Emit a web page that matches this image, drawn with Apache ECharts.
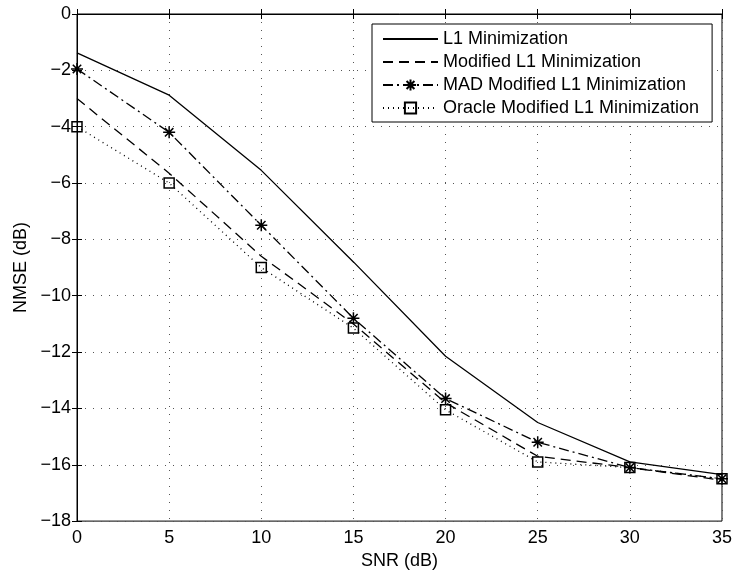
<!DOCTYPE html>
<html>
<head>
<meta charset="utf-8">
<script src="https://cdn.jsdelivr.net/npm/echarts@6/dist/echarts.min.js"></script>
<style>
  html, body { margin: 0; padding: 0; background: #fff; }
  #chart { width: 735px; height: 575px; }
</style>
</head>
<body>
<div id="chart"></div>
<script>
// SNR points (dB)
const snr = [0, 5, 10, 15, 20, 25, 30, 35]

// NMSE (dB)
const l1Min = [-1.38, -2.88, -5.55, -8.8, -12.15, -14.5, -15.9, -16.35]
const modL1 = [-3.0, -5.65, -8.6, -11.0, -13.8, -15.7, -16.1, -16.55]
const madModL1 = [-1.95, -4.2, -7.5, -10.8, -13.65, -15.2, -16.1, -16.5]
const oracleModL1 = [-4.0, -6.0, -9.0, -11.15, -14.05, -15.9, -16.1, -16.5]

const seriesNames = [
  'L1 Minimization',
  'Modified L1 Minimization',
  'MAD Modified L1 Minimization',
  'Oracle Modified L1 Minimization'
]

const FONT = 'Liberation Sans, Arial, Helvetica, sans-serif'
const FS = 18

// asterisk marker (MATLAB '*')
const starPath = 'path://M0,-5L0,5M-5,0L5,0M-3.5,-3.5L3.5,3.5M-3.5,3.5L3.5,-3.5'

const pairs = (ys) => snr.map((x, i) => [x, ys[i]])

const minusFmt = (v) => String(v).replace('-', '\u2212')

const chart = echarts.init(document.getElementById('chart'))

const gridLine = {
  show: true,
  lineStyle: { color: '#555', width: 1, type: [1, 7] }
}

// top / right axes only draw the box and the inner ticks
const frameAxis = {
  axisLine: { show: true, lineStyle: { color: '#000' } },
  axisTick: { show: true, inside: true, length: 5, lineStyle: { color: '#000' } },
  axisLabel: { show: false },
  splitLine: { show: false }
}

chart.setOption({
  animation: false,
  backgroundColor: '#fff',
  textStyle: { fontFamily: FONT },
  grid: {
    left: 77,
    right: 11,
    top: 14,
    bottom: 50,
    show: true,
    borderColor: '#000',
    borderWidth: 1
  },
  legend: {
    orient: 'vertical',
    left: 372,
    top: 24,
    data: [
      // lines without markers: hide the legend symbol
      { name: seriesNames[0], itemStyle: { opacity: 0 } },
      { name: seriesNames[1], itemStyle: { opacity: 0 } },
      { name: seriesNames[2] },
      { name: seriesNames[3] }
    ],
    itemWidth: 55,
    itemHeight: 14,
    itemGap: 5,
    padding: [6, 13, 5, 10],
    backgroundColor: '#fff',
    borderColor: '#000',
    borderWidth: 1,
    textStyle: { color: '#000', fontSize: FS, fontFamily: FONT }
  },
  xAxis: [{
    type: 'value',
    min: 0,
    max: 35,
    interval: 5,
    name: 'SNR (dB)',
    nameLocation: 'middle',
    nameGap: 29,
    nameTextStyle: { color: '#000', fontSize: FS, fontFamily: FONT },
    axisLine: { show: true, lineStyle: { color: '#000' } },
    axisTick: { show: true, inside: true, length: 5, lineStyle: { color: '#000' } },
    axisLabel: { color: '#000', fontSize: FS, fontFamily: FONT, margin: 8 },
    splitLine: gridLine
  }, {
    type: 'value',
    position: 'top',
    min: 0,
    max: 35,
    interval: 5,
    ...frameAxis
  }],
  yAxis: [{
    type: 'value',
    min: -18,
    max: 0,
    interval: 2,
    name: 'NMSE (dB)',
    nameLocation: 'middle',
    nameGap: 46,
    nameTextStyle: { color: '#000', fontSize: FS, fontFamily: FONT },
    axisLine: { show: true, lineStyle: { color: '#000' } },
    axisTick: { show: true, inside: true, length: 5, lineStyle: { color: '#000' } },
    axisLabel: { color: '#000', fontSize: FS, fontFamily: FONT, margin: 6, formatter: minusFmt },
    splitLine: gridLine
  }, {
    type: 'value',
    position: 'right',
    min: -18,
    max: 0,
    interval: 2,
    ...frameAxis
  }],
  series: [
    {
      name: seriesNames[0],
      type: 'line',
      data: pairs(l1Min),
      symbol: 'none',
      lineStyle: { color: '#000', width: 1.3, type: 'solid' },
      itemStyle: { color: '#000' }
    },
    {
      name: seriesNames[1],
      type: 'line',
      data: pairs(modL1),
      symbol: 'none',
      lineStyle: { color: '#000', width: 1.3, type: [10, 6] },
      itemStyle: { color: '#000' }
    },
    {
      name: seriesNames[2],
      type: 'line',
      data: pairs(madModL1),
      symbol: starPath,
      symbolSize: 12,
      symbolKeepAspect: true,
      showAllSymbol: true,
      lineStyle: { color: '#000', width: 1.3, type: [10, 4, 2, 4] },
      itemStyle: { color: 'none', borderColor: '#000', borderWidth: 1.5 },
      z: 3
    },
    {
      name: seriesNames[3],
      type: 'line',
      data: pairs(oracleModL1),
      symbol: 'rect',
      symbolSize: 10,
      showAllSymbol: true,
      lineStyle: { color: '#000', width: 1.3, type: [1, 4] },
      itemStyle: { color: 'rgba(255,255,255,0)', borderColor: '#000', borderWidth: 1.5 },
      z: 4
    }
  ]
})
</script>
</body>
</html>
